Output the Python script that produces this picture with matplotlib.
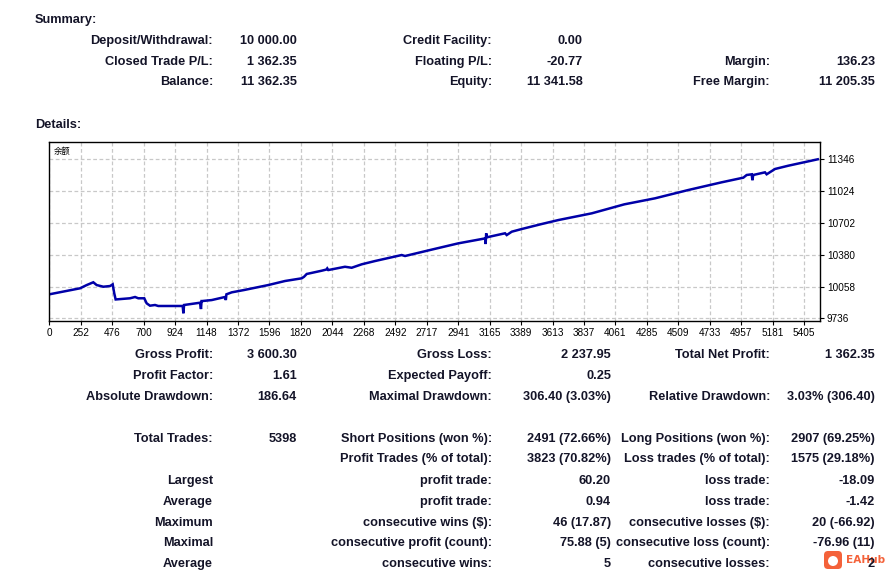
import matplotlib
matplotlib.use("Agg")
import matplotlib.pyplot as plt
from matplotlib.patches import FancyBboxPatch

W, H = 895, 574

# balance curve (trade index, balance)
trade_idx = [0, 220, 268, 315, 339, 387, 435, 454, 465, 475, 578, 614, 637, 680, 697, 721,
             757, 780, 955, 960, 965, 1079, 1086, 1090, 1095, 1163, 1258, 1264, 1268, 1306,
             1396, 1568, 1688, 1807, 1824, 1843, 1950, 1984, 1990, 1998, 2117, 2165, 2237,
             2332, 2523, 2547, 2757, 2928, 3120, 3124, 3128, 3132, 3263, 3275, 3311, 3382,
             3526, 3645, 3884, 4117, 4337, 4575, 4814, 4969, 4993, 5029, 5034, 5040, 5124,
             5136, 5196, 5291, 5502]
balance = [9979, 10040, 10073, 10101, 10073, 10056, 10063, 10080, 9989, 9927, 9939, 9952,
           9939, 9939, 9888, 9864, 9871, 9861, 9861, 9787, 9871, 9894, 9830, 9911, 9911,
           9921, 9952, 9921, 9979, 9999, 10023, 10073, 10114, 10141, 10157, 10185, 10218,
           10230, 10242, 10225, 10258, 10248, 10283, 10316, 10377, 10367, 10438, 10495,
           10545, 10488, 10597, 10556, 10597, 10579, 10613, 10640, 10691, 10731, 10799,
           10890, 10951, 11035, 11113, 11160, 11187, 11194, 11134, 11187, 11214, 11194,
           11248, 11281, 11346]

x_labels = ['0', '252', '476', '700', '924', '1148', '1372', '1596', '1820', '2044', '2268',
            '2492', '2717', '2941', '3165', '3389', '3613', '3837', '4061', '4285', '4509',
            '4733', '4957', '5181', '5405']
y_ticks = [9736, 10058, 10380, 10702, 11024, 11346]

# summary block
summary_rows = [
    ["Deposit/Withdrawal:", "10 000.00", "Credit Facility:", "0.00", "", ""],
    ["Closed Trade P/L:", "1 362.35", "Floating P/L:", "-20.77", "Margin:", "136.23"],
    ["Balance:", "11 362.35", "Equity:", "11 341.58", "Free Margin:", "11 205.35"],
]
summary_y = [41, 62, 82]

# details block
detail_rows = [
    ["Gross Profit:", "3 600.30", "Gross Loss:", "2 237.95", "Total Net Profit:", "1 362.35"],
    ["Profit Factor:", "1.61", "Expected Payoff:", "0.25", "", ""],
    ["Absolute Drawdown:", "186.64", "Maximal Drawdown:", "306.40 (3.03%)", "Relative Drawdown:", "3.03% (306.40)"],
    ["Total Trades:", "5398", "Short Positions (won %):", "2491 (72.66%)", "Long Positions (won %):", "2907 (69.25%)"],
    ["", "", "Profit Trades (% of total):", "3823 (70.82%)", "Loss trades (% of total):", "1575 (29.18%)"],
    ["Largest", "", "profit trade:", "60.20", "loss trade:", "-18.09"],
    ["Average", "", "profit trade:", "0.94", "loss trade:", "-1.42"],
    ["Maximum", "", "consecutive wins ($):", "46 (17.87)", "consecutive losses ($):", "20 (-66.92)"],
    ["Maximal", "", "consecutive profit (count):", "75.88 (5)", "consecutive loss (count):", "-76.96 (11)"],
    ["Average", "", "consecutive wins:", "5", "consecutive losses:", "2"],
]
detail_y = [355, 376, 397, 439, 459, 481, 502, 523, 543, 564]

TXT = '#141428'
FONT = ['Liberation Sans', 'DejaVu Sans']
FS = 9.2

fig = plt.figure(figsize=(W / 100, H / 100), dpi=100)
fig.patch.set_facecolor('white')


def put(x, y, s, ha='right', bold=True, size=FS, color=TXT, family=FONT):
    fig.text(x / W, 1 - y / H, s, ha=ha, va='center', fontsize=size,
             fontweight='bold' if bold else 'normal', color=color, family=family)


put(35, 20, "Summary:", ha='left')
for y, row in zip(summary_y, summary_rows):
    for x, s in zip([213, 297, 492, 583, 770, 875], row):
        if s:
            put(x, y, s)

put(35, 125, "Details:", ha='left')
for y, row in zip(detail_y, detail_rows):
    for x, s in zip([213, 297, 492, 611, 770, 875], row):
        if s:
            put(x, y, s)

# chart
x0, x1, ytop, ybot = 49.3, 820, 142.3, 321
ax = fig.add_axes([x0 / W, 1 - ybot / H, (x1 - x0) / W, (ybot - ytop) / H])
ax.plot(trade_idx, balance, color='#0000a8', lw=1.8, solid_joinstyle='miter')
ax.set_xlim(0, 5518)
ax.set_ylim(9709, 11518)
step = 5405 / 24
ax.set_xticks([i * step for i in range(len(x_labels))])
ax.set_xticklabels(x_labels)
ax.set_yticks(y_ticks)
ax.yaxis.tick_right()
ax.tick_params(axis='both', labelsize=7.2, length=3, width=0.8, color='black',
               labelcolor='black', pad=2)
for lab in ax.get_xticklabels() + ax.get_yticklabels():
    lab.set_family(FONT)
ax.grid(True, color='#c8c8c8', ls=(0, (3, 2)), lw=0.9)
for sp in ax.spines.values():
    sp.set_color('black')
    sp.set_linewidth(1.0)
ax.text(0.006, 0.95, "余额", transform=ax.transAxes, ha='left', va='center',
        fontsize=6, family=['Noto Sans CJK SC', 'DejaVu Sans'], color='black')

# watermark
logo_ax = fig.add_axes([0, 0, 1, 1], facecolor='none')
logo_ax.set_xlim(0, W)
logo_ax.set_ylim(H, 0)
logo_ax.axis('off')
logo_ax.add_patch(FancyBboxPatch((824, 551), 18, 18, boxstyle="round,pad=0,rounding_size=4",
                                 fc='#f4623a', ec='none'))
logo_ax.add_patch(plt.Circle((833, 561), 5, fc='white', ec='none'))
logo_ax.text(846, 560, "EAHub", ha='left', va='center', fontsize=7.6, fontweight='bold',
             color='#f4623a', family=['DejaVu Sans'])

fig.savefig('out.png', dpi=100, facecolor='white')
